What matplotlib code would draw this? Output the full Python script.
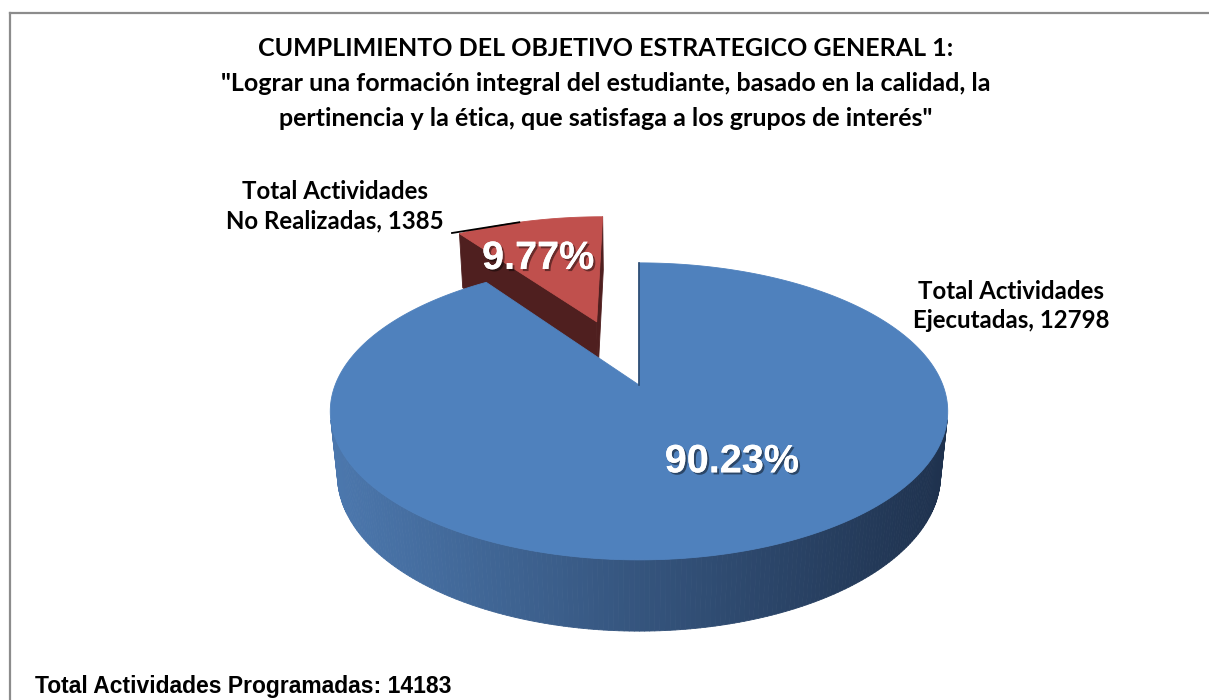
import numpy as np
import matplotlib
matplotlib.use("Agg")
import matplotlib.pyplot as plt
from matplotlib.patches import Polygon
from matplotlib.lines import Line2D
import matplotlib.patheffects as pe

# ---------------- data ----------------
categories = ["Total Actividades Ejecutadas", "Total Actividades No Realizadas"]
label_lines = [["Total Actividades", "Ejecutadas"], ["Total Actividades", "No Realizadas"]]
values = [12798, 1385]
explode = [0.0, 0.5]
total_label = "Total Actividades Programadas"
title_lines = [
    "CUMPLIMIENTO DEL OBJETIVO ESTRATEGICO GENERAL 1:",
    "\"Lograr una formación integral del estudiante, basado en la calidad, la",
    "pertinencia y la ética, que satisfaga a los grupos de interés\"",
]

# ---------------- styling ----------------
top_colors = ["#4F81BD", "#C0504D"]
cut_colors = ["#2B4A70", "#4F1F1F"]
wall_left = np.array([0x4C, 0x78, 0xAE]) / 255
wall_right = np.array([0x1E, 0x31, 0x4D]) / 255
TITLE_FONT = ["Lato", "DejaVu Sans"]
ARIAL = ["Liberation Sans", "DejaVu Sans"]

W, H = 1209, 700
fig = plt.figure(figsize=(W / 100, H / 100), dpi=100)
ax = fig.add_axes([0, 0, 1, 1])
ax.set_xlim(0, W)
ax.set_ylim(H, 0)
ax.axis("off")

# ---------------- 3D projection ----------------
elev = np.radians(28.25)
se, ce = np.sin(elev), np.cos(elev)
Dcam, F = 4.96, 1507.0
CX, CY = 639.0, 385.0
depth_h = 0.24
cam = np.array([0.0, Dcam * se, Dcam * ce])


def proj(X, Y, Z):
    X, Y, Z = np.asarray(X, float), np.asarray(Y, float), np.asarray(Z, float)
    d = Dcam - Y * se - Z * ce
    xs = F * X / d
    ys = F * (Y * ce - Z * se) / d
    return CX + xs, CY - ys


def disc_pt(t_deg, r, off, Y):
    t = np.radians(t_deg)
    return off[0] + r * np.sin(t), Y, off[1] - r * np.cos(t)


total = sum(values)
fracs = [v / total for v in values]
starts = np.concatenate([[0], np.cumsum(fracs)[:-1]]) * 360
ends = np.cumsum(fracs) * 360
offsets = []
for s, e_, ex in zip(starts, ends, explode):
    m = np.radians((s + e_) / 2)
    offsets.append((ex * np.sin(m), -ex * np.cos(m)))


def poly(xs, ys, color, z):
    p = Polygon(np.column_stack([xs, ys]), closed=True, facecolor=color,
                edgecolor=color, lw=0.6, zorder=z, joinstyle="round")
    ax.add_patch(p)


# draw back (exploded) slice first, then main slice
order = [1, 0]
zb = 2
for i in order:
    s, e_ = starts[i], ends[i]
    off = offsets[i]
    # radial cut faces (visibility test)
    for ang, sign in [(s, -1), (e_, 1)]:
        a = np.radians(ang)
        n = np.array([sign * np.cos(a), 0.0, sign * np.sin(a)])
        mid = np.array([off[0] + 0.5 * np.sin(a), 0.0, off[1] - 0.5 * np.cos(a)])
        if np.dot(n, cam - mid) > 1e-6:
            pts = [disc_pt(ang, 0, off, 0), disc_pt(ang, 1, off, 0),
                   disc_pt(ang, 1, off, -depth_h), disc_pt(ang, 0, off, -depth_h)]
            xs, ys = proj(*np.array(pts).T)
            poly(xs, ys, cut_colors[i], zb)
    # outer wall, visible strips
    ts = np.linspace(s, e_, 400)
    xmin_s, xmax_s = CX - 310, CX + 310
    for t0, t1 in zip(ts[:-1], ts[1:]):
        tm = np.radians((t0 + t1) / 2)
        n = np.array([np.sin(tm), 0, -np.cos(tm)])
        P = np.array([off[0] + np.sin(tm), 0, off[1] - np.cos(tm)])
        if np.dot(n, cam - P) <= 0:
            continue
        pts = [disc_pt(t0, 1, off, 0), disc_pt(t1, 1, off, 0),
               disc_pt(t1, 1, off, -depth_h), disc_pt(t0, 1, off, -depth_h)]
        xs, ys = proj(*np.array(pts).T)
        f = np.clip((xs.mean() - xmin_s) / (xmax_s - xmin_s), 0, 1)
        col = wall_left * (1 - f) + wall_right * f
        poly(xs, ys, col, zb + 0.5)
    # top face
    ts = np.linspace(s, e_, 300)
    pts = [disc_pt(0, 0, off, 0)] + [disc_pt(t, 1, off, 0) for t in ts]
    xs, ys = proj(*np.array(pts).T)
    poly(xs, ys, top_colors[i], zb + 1)
    zb += 3

# thin edge at 12 o'clock of main slice
ex_, ey_ = proj(*np.array([disc_pt(0, 0, offsets[0], 0), disc_pt(0, 1, offsets[0], 0)]).T)
ax.add_line(Line2D(ex_, ey_, color="#2B4A70", lw=1.2, zorder=zb))

# ---------------- percentage labels ----------------
shadow = [pe.withSimplePatchShadow(offset=(1.5, -1.5), shadow_rgbFace="black", alpha=0.45), pe.Normal()]
pct_angle_shift = [-12.4, -5.4]
pct_radius = [0.56, 0.62]
for i in range(len(values)):
    m = (starts[i] + ends[i]) / 2 + pct_angle_shift[i]
    x, y = proj(*disc_pt(m, pct_radius[i], offsets[i], 0))
    ax.text(float(x), float(y), f"{fracs[i]*100:.2f}%", color="white", fontsize=28.5,
            fontweight="bold", family=ARIAL, ha="center", va="center", zorder=20,
            path_effects=shadow)

# ---------------- category labels ----------------
ax.text(1011, 306, f"{label_lines[0][0]}\n{label_lines[0][1]}, {values[0]}",
        fontsize=17.3, fontweight="bold", family=TITLE_FONT, ha="center", va="center",
        linespacing=1.35, zorder=20)
ax.text(335, 206, f"{label_lines[1][0]}\n{label_lines[1][1]}, {values[1]}",
        fontsize=17.3, fontweight="bold", family=TITLE_FONT, ha="center", va="center",
        linespacing=1.35, zorder=20)
lx, ly = proj(*disc_pt(340, 1.0, offsets[1], 0))
ax.add_line(Line2D([452, float(lx)], [233, float(ly)], color="black", lw=1.3, zorder=21))

# ---------------- title ----------------
for k, line in enumerate(title_lines):
    ax.text(606, 48 + k * 35.5, line, fontsize=18, fontweight="bold",
            family=TITLE_FONT, ha="center", va="center", zorder=20)

ax.text(35, 686, f"{total_label}: {total}", fontsize=16.5, fontweight="bold",
        family=ARIAL, ha="left", va="center", zorder=20)

# ---------------- frame ----------------
ax.add_line(Line2D([10, W], [13, 13], color="#8C8C8C", lw=1.6, zorder=30))
ax.add_line(Line2D([10, 10], [13, H], color="#8C8C8C", lw=1.6, zorder=30))

fig.savefig("out.png", dpi=100, facecolor="white")
